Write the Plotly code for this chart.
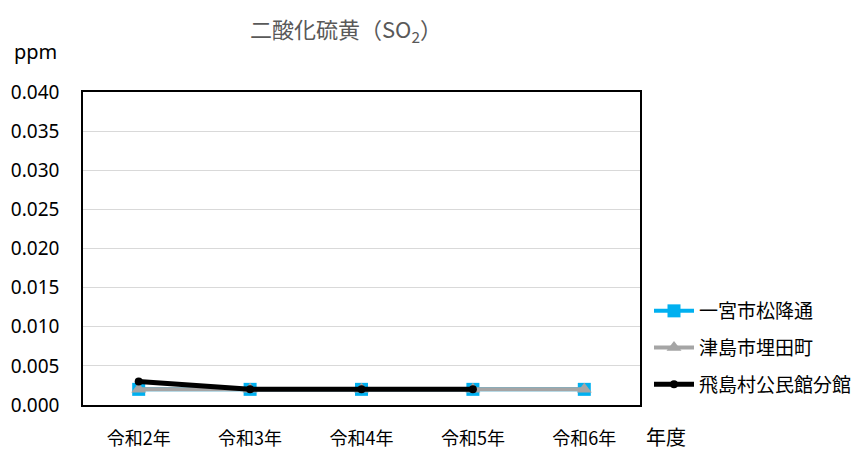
import plotly.graph_objects as go

categories = ["令和2年", "令和3年", "令和4年", "令和5年", "令和6年"]
ichinomiya = [0.002, 0.002, 0.002, 0.002, 0.002]
tsushima = [0.002, 0.002, 0.002, 0.002, 0.002]
tobishima = [0.003, 0.002, 0.002, 0.002, None]
y_ticks = [0.000, 0.005, 0.010, 0.015, 0.020, 0.025, 0.030, 0.035, 0.040]

FONT = "Noto Sans CJK JP"
NUMFONT = "Noto Sans"

W, H = 858, 442   # figure size; page adds an 8px body margin
OFF = 8
# plot area in window pixels
PX0, PX1, PY0, PY1 = 83, 640, 92, 405


def px(x):
    return (x - PX0) / (PX1 - PX0)


def py(y):
    return (PY1 - y) / (PY1 - PY0)


fig = go.Figure()
fig.add_trace(go.Scatter(
    x=categories, y=ichinomiya, name="一宮市松降通", mode="lines+markers",
    legendgroup="a",
    line=dict(color="#00B0F0", width=4),
    marker=dict(symbol="square", size=13, color="#00B0F0"),
))
fig.add_trace(go.Scatter(
    x=categories, y=tsushima, name="津島市埋田町", mode="lines+markers",
    legendgroup="b",
    line=dict(color="#A5A5A5", width=4),
    marker=dict(symbol="triangle-up", size=13, color="#A5A5A5"),
))
fig.add_trace(go.Scatter(
    x=categories, y=tobishima, name="飛島村公民館分館", mode="lines+markers",
    legendgroup="c",
    line=dict(color="#000000", width=5),
    marker=dict(symbol="circle", size=8, color="#000000"),
))

fig.update_layout(
    width=W, height=H,
    margin=dict(l=PX0 - OFF, r=W + OFF - PX1, t=PY0 - OFF, b=H + OFF - PY1,
                autoexpand=False),
    paper_bgcolor="white", plot_bgcolor="white",
    font=dict(family=FONT, color="#000000", size=18),
    showlegend=True,
    legend=dict(xref="container", yref="container",
                x=(649 - OFF) / W, y=1 - (292 - OFF) / H,
                xanchor="left", yanchor="top",
                font=dict(family=FONT, size=19, color="#000000"),
                tracegroupgap=9, itemwidth=40, bgcolor="rgba(0,0,0,0)"),
    xaxis=dict(type="category", range=[-0.5, 4.5], showgrid=False,
               showline=True, linecolor="#000000", linewidth=1.5, mirror=True,
               ticks="", ticklabelstandoff=17, automargin=False,
               tickfont=dict(family=FONT, size=18, color="#000000")),
    yaxis=dict(range=[0, 0.040], tickvals=y_ticks, tickformat=".3f",
               showgrid=True, gridcolor="#D9D9D9", gridwidth=1,
               showline=True, linecolor="#000000", linewidth=1.5, mirror=True,
               zeroline=False, ticks="", ticklabelstandoff=18, automargin=False,
               tickfont=dict(family=NUMFONT, size=19, color="#000000")),
    annotations=[
        dict(text="二酸化硫黄（SO<sub>2</sub>）", x=px(346), y=py(10),
             xref="paper", yref="paper", showarrow=False,
             xanchor="center", yanchor="top",
             font=dict(family=FONT, size=22, color="#595959")),
        dict(text="ppm", x=px(35), y=py(52), xref="paper", yref="paper",
             showarrow=False, xanchor="center", yanchor="middle",
             font=dict(family=NUMFONT, size=20, color="#000000")),
        dict(text="年度", x=px(644), y=py(436), xref="paper", yref="paper",
             showarrow=False, xanchor="left", yanchor="middle",
             font=dict(family=FONT, size=20, color="#000000")),
    ],
)

fig.write_html("out.html")
